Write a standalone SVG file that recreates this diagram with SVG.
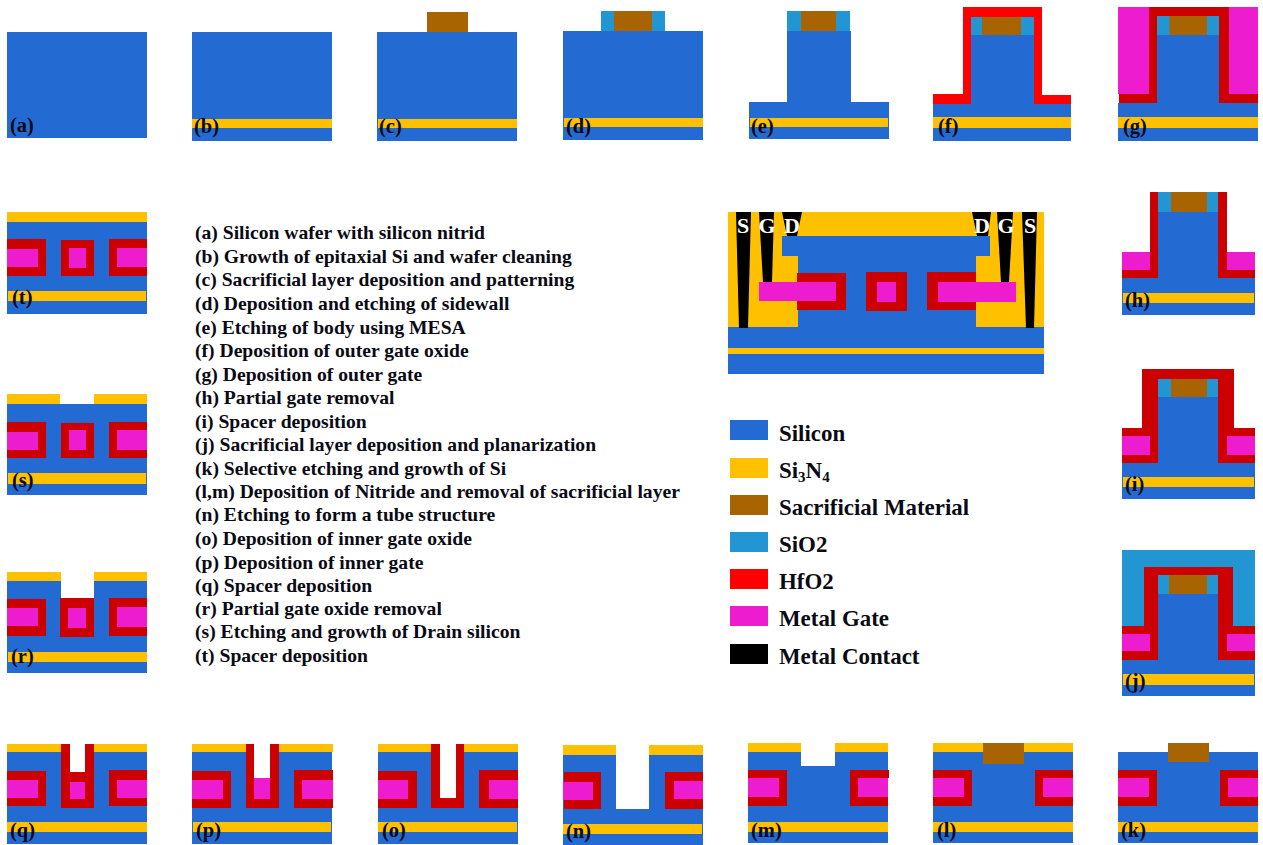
<svg xmlns="http://www.w3.org/2000/svg" width="1263" height="845" viewBox="0 0 1263 845">
<style>
.si{fill:#236ad3}.n{fill:#ffc000}.b{fill:#a86400}.o{fill:#2196d3}.h{fill:#ff0000}.r{fill:#cc0000}.g{fill:#ee1ccf}.k{fill:#000}.w{fill:#fff}
text{font-family:"Liberation Serif","Times New Roman",serif;font-weight:bold;fill:#0a0a14}
.l{font-size:20.5px}.d{font-size:19.63px}.t{font-size:22.9px}.c{font-size:22px;fill:#fff}
</style>
<rect width="1263" height="845" fill="#fff"/>
<g id="panel-a"><rect class="si" x="7" y="32" width="140" height="106"/><text class="l" x="10" y="132">(a)</text></g>
<g id="panel-b"><rect class="si" x="192" y="32" width="140" height="109"/><rect class="n" x="192" y="119" width="140" height="9"/><text class="l" x="194" y="133">(b)</text></g>
<g id="panel-c"><rect class="si" x="377" y="32" width="140" height="109"/><rect class="n" x="378" y="119" width="139" height="9"/><rect class="b" x="427" y="12" width="41" height="20"/><text class="l" x="379" y="133">(c)</text></g>
<g id="panel-d"><rect class="si" x="563" y="31" width="140" height="109"/><rect class="n" x="564" y="118" width="139" height="9"/><rect class="o" x="601" y="11" width="64" height="20"/><rect class="b" x="614" y="11" width="38" height="20"/><text class="l" x="566" y="133">(d)</text></g>
<g id="panel-e"><rect class="si" x="749" y="102" width="140" height="37"/><rect class="si" x="787" y="31" width="64" height="71"/><rect class="n" x="750" y="118" width="138" height="9"/><rect class="o" x="787" y="11" width="63" height="20"/><rect class="b" x="801" y="11" width="35" height="20"/><text class="l" x="751" y="133">(e)</text></g>
<g id="panel-f"><rect class="si" x="933" y="104" width="138" height="37"/><rect class="n" x="933" y="117" width="138" height="11"/><path class="h" d="M963 7H1042V95H1071V104H1034V17H971V104H933V94H963Z"/><rect class="si" x="971" y="35" width="63" height="69"/><rect class="o" x="971" y="17" width="63" height="18"/><rect class="b" x="982" y="17" width="39" height="18"/><text class="l" x="938" y="133">(f)</text></g>
<g id="panel-g"><rect class="si" x="1118" y="103" width="140" height="38"/><rect class="n" x="1118" y="117" width="140" height="11"/><rect class="g" x="1118" y="7" width="31" height="87"/><rect class="g" x="1229" y="7" width="29" height="87"/><path class="r" d="M1149 7H1229V94H1258V103H1219V16H1157V103H1119V94H1149Z"/><rect class="si" x="1157" y="35" width="62" height="68"/><rect class="o" x="1157" y="16" width="62" height="19"/><rect class="b" x="1169.500" y="16" width="37.500" height="19"/><text class="l" x="1123" y="133">(g)</text></g>
<g id="panel-h"><rect class="si" x="1122" y="278" width="133" height="37"/><rect class="n" x="1123" y="293" width="131" height="10"/><rect class="g" x="1122" y="252" width="28" height="18"/><rect class="g" x="1227" y="252" width="28" height="18"/><path class="r" d="M1150 192H1158V278H1122V270H1150Z"/><path class="r" d="M1218 192H1227V270H1255V278H1218Z"/><rect class="si" x="1158" y="212" width="60" height="66"/><rect class="o" x="1158" y="192" width="60" height="20"/><rect class="b" x="1171" y="192" width="36" height="20"/><text class="l" x="1125" y="307">(h)</text></g>
<g id="panel-i"><rect class="si" x="1122" y="463" width="133" height="36"/><rect class="n" x="1123" y="477" width="131" height="10"/><path class="r" d="M1142 369H1234V428H1255V463H1218V379H1158V463H1122V428H1142Z"/><rect class="g" x="1122" y="436" width="28" height="19"/><rect class="g" x="1227" y="436" width="28" height="19"/><rect class="si" x="1158" y="397" width="60" height="66"/><rect class="o" x="1158" y="379" width="60" height="18"/><rect class="b" x="1171" y="379" width="36" height="18"/><text class="l" x="1125" y="491">(i)</text></g>
<g id="panel-j"><rect class="o" x="1122" y="550" width="133" height="76"/><rect class="si" x="1122" y="660" width="133" height="36"/><rect class="n" x="1123" y="674" width="131" height="11"/><path class="r" d="M1144 567H1233V626H1255V660H1218V575H1158V660H1122V626H1144Z"/><rect class="g" x="1122" y="634" width="28" height="17"/><rect class="g" x="1227" y="634" width="28" height="17"/><rect class="si" x="1158" y="594" width="60" height="66"/><rect class="o" x="1158" y="575" width="60" height="19"/><rect class="b" x="1169" y="575" width="38" height="19"/><text class="l" x="1125" y="688">(j)</text></g>
<g id="panel-k"><rect class="si" x="1118" y="752" width="140" height="91"/><rect class="n" x="1118" y="822" width="140" height="10"/><rect class="b" x="1168" y="743" width="41" height="19"/><rect class="r" x="1118" y="770" width="39" height="36"/><rect class="g" x="1118" y="778" width="31" height="19"/><rect class="r" x="1220" y="770" width="38" height="36"/><rect class="g" x="1228" y="778" width="30" height="19"/><text class="l" x="1121" y="837">(k)</text></g>
<g id="panel-l"><rect class="si" x="933" y="752" width="140" height="91"/><rect class="n" x="933" y="743" width="140" height="9"/><rect class="n" x="933" y="822" width="140" height="10"/><rect class="b" x="983" y="743" width="41" height="21"/><rect class="r" x="933" y="770" width="39" height="36"/><rect class="g" x="933" y="778" width="31" height="19"/><rect class="r" x="1035" y="770" width="38" height="36"/><rect class="g" x="1043" y="778" width="30" height="19"/><text class="l" x="937" y="837">(l)</text></g>
<g id="panel-m"><rect class="si" x="748" y="752" width="140" height="91"/><rect class="n" x="748" y="743" width="140" height="9"/><rect class="n" x="748" y="822" width="140" height="10"/><rect class="w" x="801" y="743" width="34" height="23"/><rect class="r" x="748" y="770" width="39" height="36"/><rect class="g" x="748" y="778" width="31" height="19"/><path class="r" d="M850 770H889V778H888V806H850Z"/><rect class="g" x="858" y="778" width="30" height="19"/><text class="l" x="751" y="837">(m)</text></g>
<g id="panel-n"><rect class="si" x="563" y="755" width="140" height="90"/><rect class="n" x="563" y="745" width="53" height="10"/><rect class="n" x="649" y="745" width="54" height="10"/><rect class="n" x="563" y="824" width="139" height="10"/><rect class="w" x="616" y="745" width="33" height="64"/><rect class="r" x="564" y="772" width="37" height="37"/><rect class="g" x="563" y="782" width="30" height="18"/><rect class="r" x="665" y="772" width="38" height="37"/><rect class="g" x="674" y="781" width="29" height="18"/><text class="l" x="566" y="838">(n)</text></g>
<g id="panel-o"><rect class="si" x="378" y="752" width="140" height="92"/><rect class="n" x="378" y="744" width="140" height="8"/><rect class="n" x="378" y="822" width="139" height="10"/><rect class="r" x="378" y="771" width="39" height="37"/><rect class="g" x="378" y="780" width="30" height="19"/><rect class="r" x="431" y="744" width="33" height="64"/><rect class="w" x="440" y="744" width="16" height="54"/><rect class="r" x="479" y="770" width="39" height="38"/><rect class="g" x="489" y="780" width="29" height="19"/><text class="l" x="382" y="837">(o)</text></g>
<g id="panel-p"><rect class="si" x="192" y="752" width="140" height="92"/><rect class="n" x="192" y="744" width="141" height="8"/><rect class="n" x="193" y="822" width="138" height="10"/><rect class="r" x="192" y="771" width="39" height="37"/><rect class="g" x="192" y="780" width="31" height="19"/><rect class="r" x="246" y="744" width="33" height="64"/><rect class="w" x="254" y="744" width="16" height="34"/><rect class="g" x="254" y="778" width="16" height="21"/><rect class="r" x="294" y="770" width="39" height="38"/><rect class="g" x="302" y="780" width="31" height="19"/><text class="l" x="196" y="837">(p)</text></g>
<g id="panel-q"><rect class="si" x="7" y="752" width="140" height="92"/><rect class="n" x="7" y="744" width="140" height="8"/><rect class="n" x="7" y="822" width="140" height="10"/><rect class="r" x="7" y="771" width="39" height="35"/><rect class="g" x="7" y="780" width="31" height="18"/><rect class="r" x="61" y="744" width="33" height="64"/><rect class="w" x="70" y="744" width="15" height="28"/><rect class="g" x="70" y="782" width="15" height="17"/><rect class="r" x="109" y="770" width="38" height="36"/><rect class="g" x="117" y="780" width="30" height="18"/><text class="l" x="10" y="837">(q)</text></g>
<g id="panel-r"><rect class="si" x="7" y="581" width="140" height="92"/><rect class="n" x="7" y="572" width="54" height="9"/><rect class="n" x="94" y="572" width="53" height="9"/><rect class="n" x="8" y="652" width="139" height="10"/><rect class="w" x="61" y="572" width="33" height="26"/><rect class="r" x="7" y="599" width="39" height="37"/><rect class="g" x="7" y="608" width="31" height="18"/><rect class="r" x="60" y="598" width="34" height="39"/><rect class="g" x="68" y="608" width="18" height="20"/><rect class="r" x="109" y="598" width="38" height="38"/><rect class="g" x="117" y="607" width="30" height="20"/><text class="l" x="11" y="663">(r)</text></g>
<g id="panel-s"><rect class="si" x="7" y="404" width="140" height="91"/><rect class="n" x="7" y="394" width="53" height="10"/><rect class="n" x="94" y="394" width="53" height="10"/><rect class="n" x="8" y="473" width="138" height="11"/><rect class="r" x="7" y="422" width="39" height="36"/><rect class="g" x="7" y="432" width="31" height="18"/><rect class="r" x="61" y="423" width="33" height="35"/><rect class="g" x="69" y="430" width="17" height="20"/><rect class="r" x="109" y="422" width="38" height="36"/><rect class="g" x="117" y="430" width="30" height="20"/><text class="l" x="12" y="487">(s)</text></g>
<g id="panel-t"><rect class="si" x="7" y="222" width="140" height="92"/><rect class="n" x="7" y="212" width="140" height="10"/><rect class="n" x="8" y="291" width="138" height="10"/><rect class="r" x="7" y="239" width="39" height="37"/><rect class="g" x="7" y="249" width="31" height="18"/><rect class="r" x="61" y="240" width="33" height="36"/><rect class="g" x="69" y="248" width="17" height="20"/><rect class="r" x="109" y="239" width="38" height="37"/><rect class="g" x="117" y="248" width="30" height="19"/><text class="l" x="12" y="304">(t)</text></g>
<g id="final-device">
<rect class="n" x="728" y="212" width="316" height="115"/>
<rect class="si" x="728" y="327" width="316" height="47"/><rect class="n" x="728" y="348" width="316" height="6"/>
<rect class="si" x="782" y="236" width="208" height="20"/><rect class="si" x="798" y="256" width="178" height="71"/>
<path class="k" d="M736 212H751L748 328H739Z"/><path class="k" d="M759 212H774L772 282H763Z"/><path class="k" d="M782 212H802L797 236H787Z"/>
<path class="k" d="M972 212H991L988 236H977Z"/><path class="k" d="M997 212H1013L1009 282H1001Z"/><path class="k" d="M1022 212H1037L1034 328H1026Z"/>
<rect class="r" x="797" y="273" width="49" height="37"/><rect class="g" x="759" y="282" width="77" height="19"/>
<rect class="r" x="866" y="272" width="41" height="39"/><rect class="g" x="877" y="282" width="19" height="20"/>
<rect class="r" x="927" y="272" width="49" height="38"/><rect class="g" x="938" y="282" width="78" height="20"/>
<text class="c" x="743" y="233" text-anchor="middle">S</text><text class="c" x="767" y="233" text-anchor="middle">G</text><text class="c" x="792" y="233" text-anchor="middle">D</text>
<text class="c" x="982" y="233" text-anchor="middle">D</text><text class="c" x="1006" y="233" text-anchor="middle">G</text><text class="c" x="1030" y="233" text-anchor="middle">S</text>
</g>
<g id="steps">
<text class="d" x="195" y="239">(a) Silicon wafer with silicon nitrid</text>
<text class="d" x="195" y="263">(b) Growth of epitaxial Si and wafer cleaning</text>
<text class="d" x="195" y="286">(c) Sacrificial layer deposition and patterning</text>
<text class="d" x="195" y="310">(d) Deposition and etching of sidewall</text>
<text class="d" x="195" y="334">(e) Etching of body using MESA</text>
<text class="d" x="195" y="357">(f) Deposition of outer gate oxide</text>
<text class="d" x="195" y="381">(g) Deposition of outer gate</text>
<text class="d" x="195" y="404">(h) Partial gate removal</text>
<text class="d" x="195" y="428">(i) Spacer deposition</text>
<text class="d" x="195" y="451">(j) Sacrificial layer deposition and planarization</text>
<text class="d" x="195" y="475">(k) Selective etching and growth of Si</text>
<text class="d" x="195" y="498">(l,m) Deposition of Nitride and removal of sacrificial layer</text>
<text class="d" x="195" y="521">(n) Etching to form a tube structure</text>
<text class="d" x="195" y="545">(o) Deposition of inner gate oxide</text>
<text class="d" x="195" y="569">(p) Deposition of inner gate</text>
<text class="d" x="195" y="592">(q) Spacer deposition</text>
<text class="d" x="195" y="615">(r) Partial gate oxide removal</text>
<text class="d" x="195" y="638">(s) Etching and growth of Drain silicon</text>
<text class="d" x="195" y="662">(t) Spacer deposition</text>
</g>
<g id="legend">
<g id="legend-silicon"><rect class="si" x="730" y="420" width="38" height="20"/><text class="t" x="779" y="441">Silicon</text></g>
<g id="legend-si3n4"><rect class="n" x="730" y="458" width="38" height="20"/><text class="t" x="779" y="478">Si<tspan font-size="15" dy="4">3</tspan><tspan dy="-4">N</tspan><tspan font-size="15" dy="4">4</tspan></text></g>
<g id="legend-sacrificial"><rect class="b" x="730" y="495" width="38" height="20"/><text class="t" x="779" y="515">Sacrificial Material</text></g>
<g id="legend-sio2"><rect class="o" x="730" y="532" width="38" height="20"/><text class="t" x="779" y="552">SiO2</text></g>
<g id="legend-hfo2"><rect class="h" x="730" y="569" width="38" height="20"/><text class="t" x="779" y="589">HfO2</text></g>
<g id="legend-gate"><rect class="g" x="730" y="606" width="38" height="20"/><text class="t" x="779" y="626">Metal Gate</text></g>
<g id="legend-contact"><rect class="k" x="730" y="644" width="38" height="20"/><text class="t" x="779" y="664">Metal Contact</text></g>
</g>
</svg>
